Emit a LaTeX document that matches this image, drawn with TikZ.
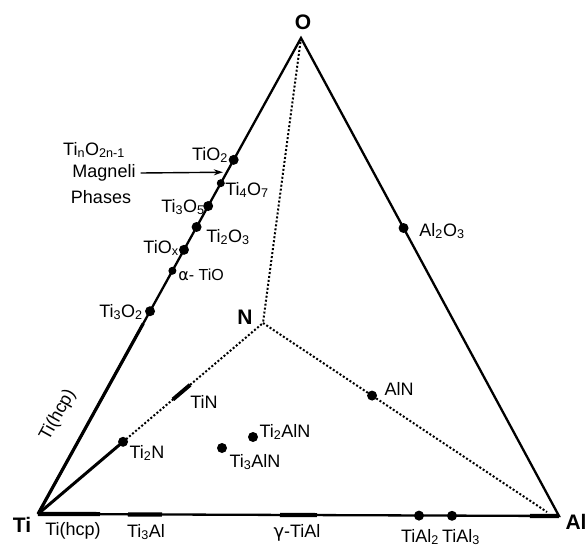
\documentclass[tikz,border=0pt]{standalone}
\usepackage{fontspec}
\setmainfont{Liberation Sans}
\usetikzlibrary{calc,arrows.meta}
\newcommand{\sbx}[1]{\textsubscript{#1}}
\tikzset{
  edge/.style={line width=2.3pt},
  thickseg/.style={line width=4.2pt},
  dotline/.style={line width=2pt, dash pattern=on 2pt off 2pt},
  dot/.style={circle, fill=black, inner sep=0pt, minimum size=10pt},
  lbl/.style={inner sep=0pt, font=\fontsize{18}{20}\selectfont},
  vlbl/.style={inner sep=0pt, font=\fontsize{21}{23}\selectfont\bfseries}
}
\begin{document}
\begin{tikzpicture}[x=1pt,y=-1pt]
\useasboundingbox (0,0) rectangle (587,552);
% vertices
\coordinate (Ti) at (38,514);
\coordinate (Al) at (559,516);
\coordinate (O) at (301,38);
\coordinate (N) at (263,323);
\coordinate (Aend) at (547,512);
% triangle
\draw[edge] (Ti) -- (O) -- (Al) -- (Ti);
\draw[line width=3.2pt] (Ti) -- ($(Ti)!0.40!(O)$);
% bottom thick segments
\coordinate (h1) at (100,514.1);
\coordinate (a1) at (128,514.4);
\coordinate (a2) at (162,514.5);
\coordinate (g1) at (280,515);
\coordinate (g2) at (317,515.1);
\coordinate (e1) at (530,515.9);
\draw[thickseg] (Ti) -- (h1);
\draw[thickseg] (a1) -- (a2);
\draw[thickseg] (g1) -- (g2);
\draw[thickseg] (e1) -- (Al);
% Ti-O edge phases
\node[dot] (TiO2) at ($(Ti)!0.744!(O)$) {};
\node[dot,minimum size=8pt] (Ti4O7) at ($(Ti)!0.695!(O)$) {};
\node[dot] (Ti3O5) at ($(Ti)!0.647!(O)$) {};
\node[dot] (Ti2O3) at ($(Ti)!0.603!(O)$) {};
\node[dot] (TiOx) at ($(Ti)!0.555!(O)$) {};
\node[dot,minimum size=8pt] (aTiO) at ($(Ti)!0.511!(O)$) {};
\node[dot] (Ti3O2) at ($(Ti)!0.426!(O)$) {};
\coordinate (mag) at ($(Ti)!0.718!(O)+(-4,0)$);
% Al-O edge
\node[dot] (Al2O3) at ($(O)!0.3975!(Al)$) {};
% nitrogen lines
\node[dot] (Ti2N) at ($(Ti)!0.378!(N)$) {};
\draw[line width=3pt] (Ti) -- (Ti2N.center);
\draw[dotline] (Ti2N.center) -- (N);
\draw[dotline] (O) -- (N);
\draw[dotline] (N) -- (Aend);
\draw[line width=4pt] ($(Ti)!0.6!(N)$) -- ($(Ti)!0.676!(N)$);
\node[dot] (AlN) at ($(N)!0.384!(Aend)$) {};
% Ti-Al line compounds
\node[dot] (TiAl2) at (419,515.6) {};
\node[dot] (TiAl3) at (452,515.8) {};
% ternary
\node[dot] (Ti2AlN) at (253,437) {};
\node[dot] (Ti3AlN) at (222,448) {};
% vertex labels
\node[vlbl] (lO) at (303,22) {O};
\node[vlbl] (lN) at (245,317) {N};
\node[vlbl] (lTi) at (22,525) {Ti};
\node[vlbl] (lAl) at (576,522) {Al};
% labels
\node[lbl] (lTinO) at (94,150) {Ti\sbx{n}O\sbx{2n-1}};
\node[lbl] (lMag) at (104,173) {Magneli};
\node[lbl] (lPha) at (101,197) {Phases};
\draw[line width=1.4pt,-{Stealth[length=9pt,width=6pt]}] (lMag.east) ++(5,0) -- (mag);
\node[lbl] (lTiO2) at (210,155) {TiO\sbx{2}};
\node[lbl] (lTi4O7) at (247,190) {Ti\sbx{4}O\sbx{7}};
\node[lbl] (lTi3O5) at (183,207) {Ti\sbx{3}O\sbx{5}};
\node[lbl] (lTi2O3) at (228,237) {Ti\sbx{2}O\sbx{3}};
\node[lbl] (lTiOx) at (161,248) {TiO\sbx{x}};
\node[lbl,font=\fontsize{16}{18}\selectfont] (laTiO) at (201,275) {\fontspec{DejaVu Sans}α\fontspec{Liberation Sans}- TiO};
\node[lbl] (lTi3O2) at (121,312) {Ti\sbx{3}O\sbx{2}};
\node[lbl] (lAl2O3) at (442,231) {Al\sbx{2}O\sbx{3}};
\node[lbl] (lAlN) at (399,389) {AlN};
\node[lbl] (lTiN) at (204,402) {TiN};
\node[lbl] (lTi2N) at (147,453) {Ti\sbx{2}N};
\node[lbl] (lTi2AlN) at (285,432) {Ti\sbx{2}AlN};
\node[lbl] (lTi3AlN) at (255,462) {Ti\sbx{3}AlN};
\node[lbl,rotate=61] (lTihcp1) at (58,415) {Ti(hcp)};
\node[lbl] (lTihcp2) at (73,531) {Ti(hcp)};
\node[lbl] (lTi3Al) at (146,532) {Ti\sbx{3}Al};
\node[lbl] (lgTiAl) at (297,533) {\fontspec{DejaVu Sans}γ\fontspec{Liberation Sans}-TiAl};
\node[lbl] (lTiAl2) at (420,537) {TiAl\sbx{2}};
\node[lbl] (lTiAl3) at (461,537) {TiAl\sbx{3}};
\end{tikzpicture}
\end{document}
